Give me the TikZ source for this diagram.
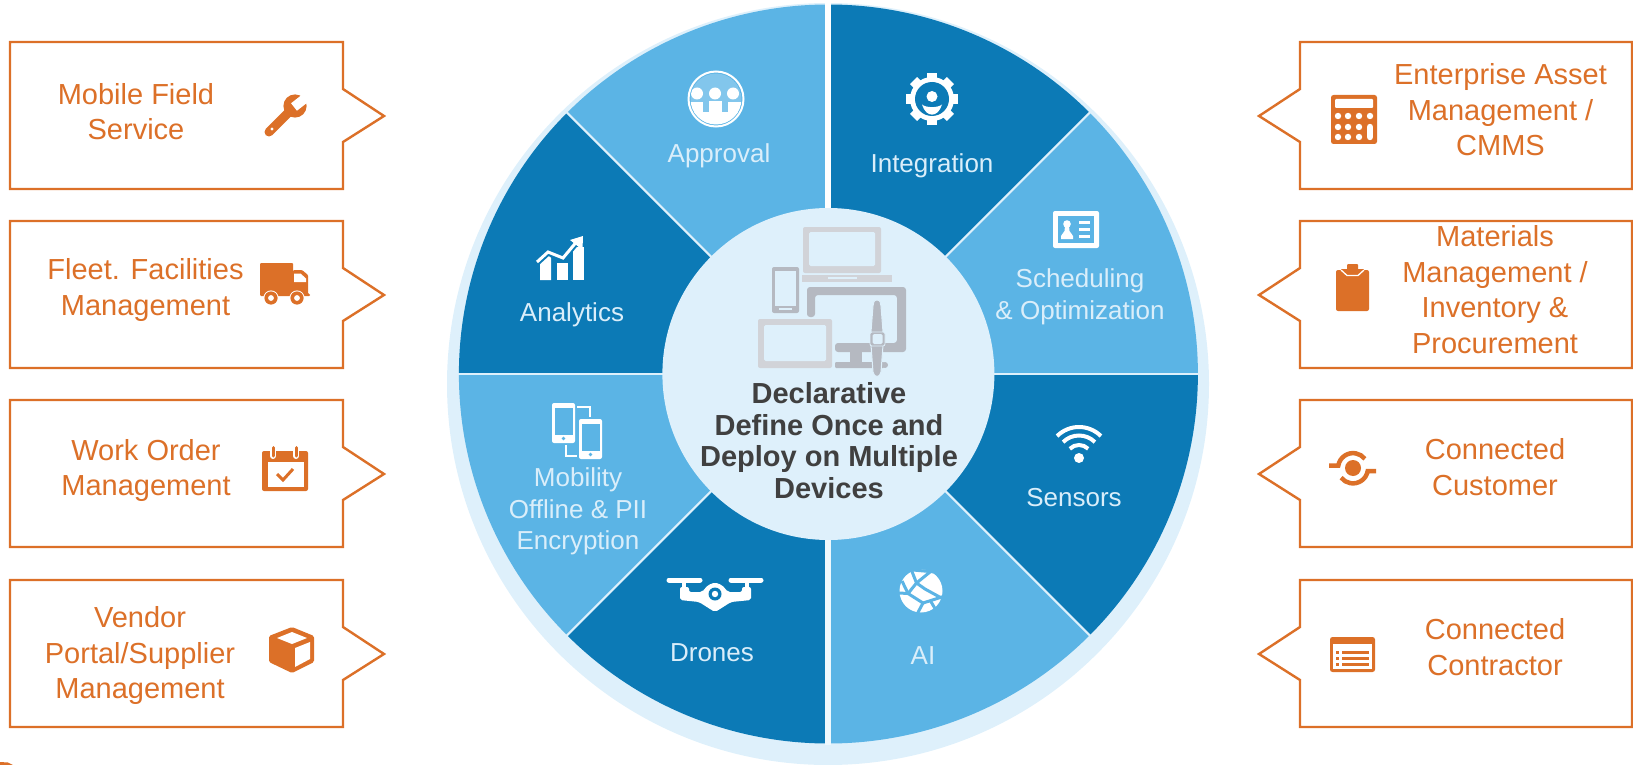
\documentclass[tikz,border=0pt]{standalone}
\usepackage{fontspec}
\usetikzlibrary{calc}
\setmainfont{Liberation Sans}
\lineskiplimit=-1000pt
\definecolor{dk}{HTML}{0C7AB6}
\definecolor{lt}{HTML}{5BB4E5}
\definecolor{pale}{HTML}{DEF0FB}
\definecolor{orng}{HTML}{DC7028}
\definecolor{txtd}{HTML}{404040}
\definecolor{gra}{HTML}{D1D3D8}
\definecolor{grb}{HTML}{B5B9C1}
\definecolor{seglab}{HTML}{DAEEFA}
\newcommand\st{\rule[-0.37em]{0pt}{0.83em}}
\tikzset{
  callout/.style={draw=orng,line width=2.4pt,fill=white,line join=miter},
  olab/.style={text=orng,align=center,inner sep=0pt,font=\fontsize{29}{35.5}\selectfont},
  slab/.style={text=seglab,align=center,inner sep=0pt,font=\fontsize{26}{31.5}\selectfont},
  clab/.style={text=txtd,align=center,inner sep=0pt,font=\bfseries\fontsize{29}{31.5}\selectfont},
  divider/.style={draw=#1,line width=2pt},
  ico/.style={fill=orng,draw=none}
}
\begin{document}
\begin{tikzpicture}[x=1pt,y=-1pt]
\useasboundingbox (0,0) rectangle (1633,765);
\coordinate (c) at (828.4,374);
% wheel
\fill[pale] (828,384) circle[radius=381];
\foreach \a/\col in {270/dk,315/lt,0/dk,45/lt,90/dk,135/lt,180/dk,225/lt}{
  \fill[\col] (c) -- ($(c)+(\a:369.5)$) arc[start angle=\a,delta angle=45,radius=369.5] -- cycle;
}
\foreach \a in {45,135,225,315,0,180}{
  \draw[divider=pale] (c) -- ++(\a:370.5);
}
\draw[white,line width=6pt] (c) -- ++(270:372);
\draw[pale!50!white,line width=6pt] (c) -- ++(90:370.5);
\fill[pale] (c) circle[radius=166];
% devices
\fill[gra,rounded corners=2pt] (803,227) rectangle (881,273);
\fill[pale,rounded corners=1.5pt] (809,232) rectangle (875,266);
\fill[gra] (802,275) rectangle (892,282);
\fill[pale] (828,277) rectangle (857,279);
\fill[grb,rounded corners=2pt] (772,267) rectangle (799,313);
\fill[pale] (775,271) rectangle (796,306);
\fill[pale] (779,308) rectangle (792,310);
\fill[grb,rounded corners=3pt] (807,317) -- (807,287) -- (906,287) -- (906,352) -- (835,352) -- (835,343) -- (897,343) -- (897,295) -- (815,295) -- (815,317) -- cycle;
\fill[grb] (850,352) rectangle (862,363);
\fill[grb,rounded corners=1pt] (835,362) rectangle (884,368);
\fill[grb] (885,365) circle[radius=3];
\fill[gra,rounded corners=2pt] (758,319) rectangle (832,368);
\fill[pale,rounded corners=1.5pt] (764,325) rectangle (826,361);
\fill[grb,draw=pale,line width=1pt] (877,300) .. controls (880.5,300) and (880.5,303) .. (881,306) -- (883,332) -- (883,345) -- (881,372) .. controls (880,378) and (874,378) .. (873,372) -- (871,345) -- (871,332) -- (873,306) .. controls (873.5,303) and (873.5,300) .. (877,300) -- cycle;
\fill[grb,draw=pale,line width=0.8pt,rounded corners=2pt] (870,332) rectangle (885,346);
\fill[pale,rounded corners=1.5pt] (872.5,334) rectangle (882.5,344);
% left callouts
\foreach \t in {42,221,400,580}{
  \draw[callout] (10,\t) -- (343,\t) -- (343,\t+47) -- (384,\t+74) -- (343,\t+100) -- (343,\t+147) -- (10,\t+147) -- cycle;
}
% right callouts
\foreach \t in {42,221,400,580}{
  \draw[callout] (1632,\t) -- (1300,\t) -- (1300,\t+47) -- (1259,\t+74) -- (1300,\t+100) -- (1300,\t+147) -- (1632,\t+147) -- cycle;
}
% left labels
\node[olab] (n1) at (136,117) {\st Mobile Field\\\st Service};
\node[olab] (n2) at (145.5,292.5) {\st Fleet. Facilities\\\st Management};
\node[olab] (n3) at (146,473) {\st Work Order\\\st Management};
\node[olab] (n4) at (140,658) {\st Vendor\\Portal/Supplier\\\st Management};
% right labels
\node[olab] (n5) at (1500.5,115) {\st Enterprise Asset\\Management /\\\st CMMS};
\node[olab] (n6) at (1495,295) {\st Materials\\Management /\\Inventory \&\\\st Procurement};
\node[olab] (n7) at (1495,472.5) {\st Connected\\\st Customer};
\node[olab] (n8) at (1495,652.5) {\st Connected\\\st Contractor};
% segment labels
\node[slab] (s1) at (932,168) {\st Integration};
\node[slab] (s2) at (1080,299) {\st Scheduling\\\st \& Optimization};
\node[slab] (s3) at (1074,502) {\st Sensors};
\node[slab] (s4) at (923,660) {\st AI};
\node[slab] (s5) at (712,657) {\st Drones};
\node[slab] (s6) at (578,513.5) {\st Mobility\\Offline \& PII\\\st Encryption};
\node[slab] (s7) at (572,317) {\st Analytics};
\node[slab] (s8) at (719,158) {\st Approval};
\node[clab] (ctr) at (829,446) {\st Declarative\\Define Once and\\Deploy on Multiple\\\st Devices};
% wrench
\draw[orng,line width=9pt,line cap=round] (269,132) -- (290,111);
\fill[white] (272,129) circle[radius=1.6];
\fill[ico] (295,106) circle[radius=11.6];
\draw[white,line width=9.5pt] (294,107) -- ++(-38:20);
% truck
\fill[ico,rounded corners=1pt] (260,263) rectangle (293,296);
\fill[ico,rounded corners=1pt] (293,270) -- (302,270) -- (308,275) -- (308,294) -- (310,294) -- (310,296) -- (293,296) -- cycle;
\fill[white] (294,273.5) -- (300.5,273.5) -- (306,278.5) -- (306,282) -- (294,282) -- cycle;
\foreach \x in {271,297}{
  \fill[white] (\x,298) circle[radius=7.6];
  \fill[orng] (\x,298) circle[radius=6.6];
  \fill[white] (\x,298) circle[radius=2.9];
}
% calendar
\fill[ico,rounded corners=2pt] (262,451) rectangle (308,491);
\fill[white] (267.5,462) rectangle (304,487);
\foreach \x in {273,296}{
  \draw[white,line width=6pt,line cap=round] (\x,448) -- (\x,456);
  \draw[orng,line width=3pt,line cap=round] (\x,447.5) -- (\x,456);
}
\draw[orng,line width=3pt] (277,474) -- (283,480) -- (293,469);
% cube
\fill[ico,rounded corners=1.5pt] (292,627) -- (314,636) -- (314,662) -- (292,673) -- (269,662) -- (269,636) -- cycle;
\fill[white] (292,632) -- (307,638) -- (292,644) -- (277,638) -- cycle;
\fill[white] (295,648) -- (310,642) -- (310,659) -- (295,667) -- cycle;
% calculator
\fill[ico,rounded corners=2.5pt] (1331,95) rectangle (1377,144);
\fill[white,rounded corners=1pt] (1335,99) rectangle (1373,108);
\foreach \x/\y in {1338/116,1348/116,1359/116,1370/116,1338/127,1348/127,1359/127,1338/137,1348/137,1359/137}{
  \fill[white] (\x,\y) circle[radius=3.2];
}
\draw[white,line width=6.4pt,line cap=round] (1370,127) -- (1370,137);
% clipboard
\fill[ico,rounded corners=2pt] (1336,270) rectangle (1369,311);
\fill[ico,rounded corners=1pt] (1347,264) rectangle (1358,272);
\fill[ico] (1341,269) rectangle (1364,273);
\draw[white,line width=1.3pt] (1341,270) -- (1347,275.5) -- (1358,275.5) -- (1364,270);
% connected customer
\coordinate (cc) at (1353,468);
\fill[orng] (cc) circle[radius=8];
\draw[orng,line width=4.5pt] (1329,465.5) -- (1338.3,465.5) arc[start angle=190,end angle=322,radius=15];
\draw[orng,line width=4.5pt] (1376,471) -- (1367.7,471) arc[start angle=10,end angle=142,radius=15];
% contractor list
\fill[ico,rounded corners=2.5pt] (1330,637) rectangle (1375,672);
\fill[white] (1333,644) rectangle (1372,669);
\foreach \y in {652,658,664}{
  \fill[orng] (1336,\y-1.5) rectangle (1339,\y+1.5);
  \fill[orng] (1342,\y-1.5) rectangle (1369,\y+1.5);
}
% gear
\coordinate (g) at (932,99);
\foreach \a in {0,45,...,315}{
  \draw[white,line width=10pt] (g) -- ++(\a:26);
}
\fill[white] (g) circle[radius=22];
\fill[dk] (g) circle[radius=17];
\fill[white] (932,96.5) circle[radius=5.5];
\fill[white] (922,104.5) .. controls (926,118) and (938,118) .. (942,104.5) .. controls (938,108) and (926,108) .. (922,104.5) -- cycle;
% id card
\fill[white,rounded corners=2pt] (1053,211) rectangle (1099,248);
\fill[lt] (1058,216) rectangle (1094,243);
\fill[white] (1067,224) circle[radius=3.8];
\fill[white] (1065,226) -- (1069,226) -- (1069.5,231) -- (1073,236) -- (1073,239) -- (1061,239) -- (1061,236) -- (1064.5,231) -- cycle;
\foreach \y in {222,229,236}{
  \draw[white,line width=3pt] (1079,\y) -- (1090,\y);
}
% wifi
\coordinate (w) at (1079,458);
\fill[white] (w) circle[radius=5];
\foreach \r in {13,22.5,31}{
  \draw[white,line width=4pt] ($(w)+(225:\r)$) arc[start angle=225,end angle=315,radius=\r];
}
% globe
\coordinate (gl) at (921,591);
\fill[white] (gl) circle[radius=21.5];
\begin{scope}[draw=lt,line width=3pt,line join=round]
\draw (911,569) -- (916.5,583) -- (925,589) -- (945,600);
\draw (899,593) -- (908,593.5) -- (916.5,583) -- (930,572) -- (930,568);
\draw (902,581) -- (908,593.5);
\draw (908,593.5) -- (923,603) -- (915,618);
\draw (923,603) -- (945,596);
\draw (930,600) -- (937,612);
\draw (913,570) -- (935,572);
\end{scope}
% drone
\draw[white,line width=5pt,line cap=round] (669,580) -- (700,580);
\draw[white,line width=5pt,line cap=round] (731,580) -- (761,580);
\draw[white,line width=3.5pt] (684,580) -- (684,590);
\draw[white,line width=3.5pt] (747,580) -- (747,590);
\fill[white,rounded corners=2pt] (680,587) -- (689,587) -- (689,592) -- (702,592) -- (708,585) -- (715,582.5) -- (722,585) -- (728,592) -- (742,592) -- (742,587) -- (751,587) -- (751,600) -- (731,602) -- (720,609) -- (715,612) -- (710,609) -- (699,602) -- (680,600) -- cycle;
\fill[dk] (715,594) circle[radius=6.5];
\fill[white] (715,594) circle[radius=3.2];
% phones
\foreach \x/\y in {552/403,579/419}{
  \fill[white,rounded corners=2pt] (\x,\y) rectangle (\x+23,\y+40);
  \fill[lt] (\x+3,\y+5) rectangle (\x+20.5,\y+32);
  \fill[lt] (\x+11.5,\y+35.5) circle[radius=1.8];
}
\draw[white,line width=2.6pt] (577,407) -- (590,407) -- (590,417);
\draw[white,line width=2.6pt] (566,445) -- (566,456) -- (577,456);
% analytics
\fill[white] (540,280) -- (540,261) -- (548,255) -- (551,258) -- (551,280) -- cycle;
\fill[white] (557,263) rectangle (568,280);
\fill[white] (573,247) rectangle (584,280);
\draw[dk,line width=7pt] (537,262) -- (548,252) -- (563,258) -- (578,240);
\draw[white,line width=3pt] (537,262) -- (548,252) -- (563,258) -- (578,240);
\fill[white] (583,236) -- (582.5,250) -- (570,240) -- cycle;
% approval
\coordinate (ap) at (716,99);
\draw[white,line width=2pt] (ap) circle[radius=27.5];
\begin{scope}
\clip (ap) circle[radius=25.5];
\fill[pale!30!lt] (ap) circle[radius=25.5];
\fill[white] (690,112) rectangle (742,125);
\foreach \x in {697,715,733}{
  \fill[white] (\x,93.5) circle[radius=6];
}
\fill[white] (709,101) rectangle (722,114);
\fill[white] (690,102) rectangle (703,114);
\fill[white] (728,102) rectangle (742,114);
\end{scope}
% corner mark
\fill[orng] (0,762) -- (8,762.5) -- (13,765) -- (0,765) -- cycle;
\end{tikzpicture}
\end{document}
